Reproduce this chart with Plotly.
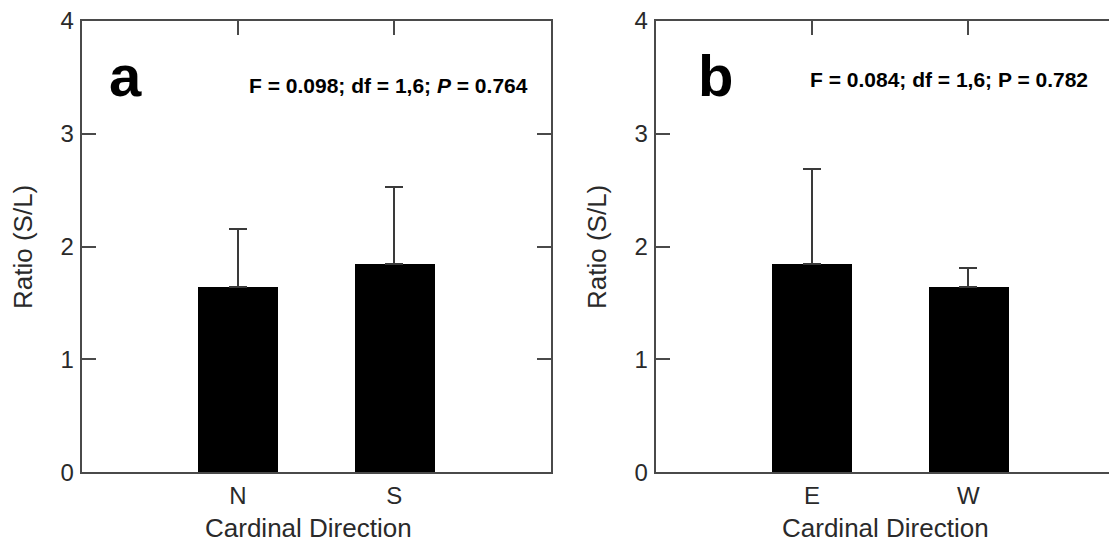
import plotly.graph_objects as go

# ---- data ----
dirs_a = ["N", "S"]
ratio_a = [1.64, 1.85]
err_a = [0.52, 0.68]

dirs_b = ["E", "W"]
ratio_b = [1.85, 1.64]
err_b = [0.84, 0.17]

y_ticks = [0, 1, 2, 3, 4]
stats_a = "F = 0.098; df = 1,6; <i>P</i> = 0.764"
stats_b = "F = 0.084; df = 1,6; P = 0.782"

W, H = 1117, 544
OFF = 8  # page body margin offset
FONT = "Liberation Sans, Arial, sans-serif"
LINE = "#4a4a4a"
TXT = "#2a2a2a"

fig = go.Figure()

fig.add_trace(go.Bar(
    x=dirs_a, y=ratio_a, width=0.51, marker=dict(color="black", line=dict(width=0)),
    error_y=dict(type="data", symmetric=False, array=err_a, arrayminus=[0] * len(err_a),
                 color="#3a3a3a", thickness=2, width=9),
    xaxis="x", yaxis="y", showlegend=False))

fig.add_trace(go.Bar(
    x=dirs_b, y=ratio_b, width=0.51, marker=dict(color="black", line=dict(width=0)),
    error_y=dict(type="data", symmetric=False, array=err_b, arrayminus=[0] * len(err_b),
                 color="#3a3a3a", thickness=2, width=9),
    xaxis="x2", yaxis="y2", showlegend=False))

def px(v):
    return (v - OFF) / W

def py(v):
    return 1 - (v - OFF) / H

ydom = [py(472.3), py(21)]
xdom_a = [px(81.7), px(550.7)]
xdom_b = [px(655.7), min(1.0, px(1124.7))]

common_x = dict(showline=True, linecolor=LINE, linewidth=2, mirror="ticks",
                ticks="inside", ticklen=14, tickwidth=2, tickcolor=LINE,
                showgrid=False, zeroline=False, type="category", automargin=False,
                range=[-1, 2], ticklabeloverflow="allow", layer="below traces",
                tickfont=dict(family=FONT, size=24, color=TXT), ticklabelstandoff=1)
common_y = dict(showline=True, linecolor=LINE, linewidth=2, mirror="ticks",
                ticks="inside", ticklen=14, tickwidth=2, tickcolor=LINE,
                showgrid=False, zeroline=False, range=[0, 4], tickvals=y_ticks,
                automargin=False, ticklabeloverflow="allow",
                tickfont=dict(family=FONT, size=24, color=TXT), ticklabelstandoff=1)

fig.update_layout(
    width=W, height=H, margin=dict(l=0, r=0, t=0, b=0, pad=0, autoexpand=False),
    paper_bgcolor="white", plot_bgcolor="white",
    xaxis=dict(domain=xdom_a, anchor="y", **common_x),
    yaxis=dict(domain=ydom, anchor="x", **common_y),
    xaxis2=dict(domain=xdom_b, anchor="y2", **common_x),
    yaxis2=dict(domain=ydom, anchor="x2", **common_y),
    bargap=0,
)

ann = []
def A(x, y, text, size, angle=0, color="black"):
    ann.append(dict(x=px(x), y=py(y), xref="paper", yref="paper", text=text,
                    showarrow=False, xanchor="center", yanchor="middle", textangle=angle,
                    font=dict(family=FONT, size=size, color=color)))

A(125, 75, "<b>a</b>", 58)
A(715, 75.5, "<b>b</b>", 58)
A(388, 85, "<b>" + stats_a + "</b>", 21)
A(949, 80, "<b>" + stats_b + "</b>", 21)
A(308, 528, "Cardinal Direction", 26, color=TXT)
A(885, 528, "Cardinal Direction", 26, color=TXT)
A(23, 247, "Ratio (S/L)", 26, angle=-90, color=TXT)
A(597, 247, "Ratio (S/L)", 26, angle=-90, color=TXT)
fig.update_layout(annotations=ann)

fig.write_html("out.html")
